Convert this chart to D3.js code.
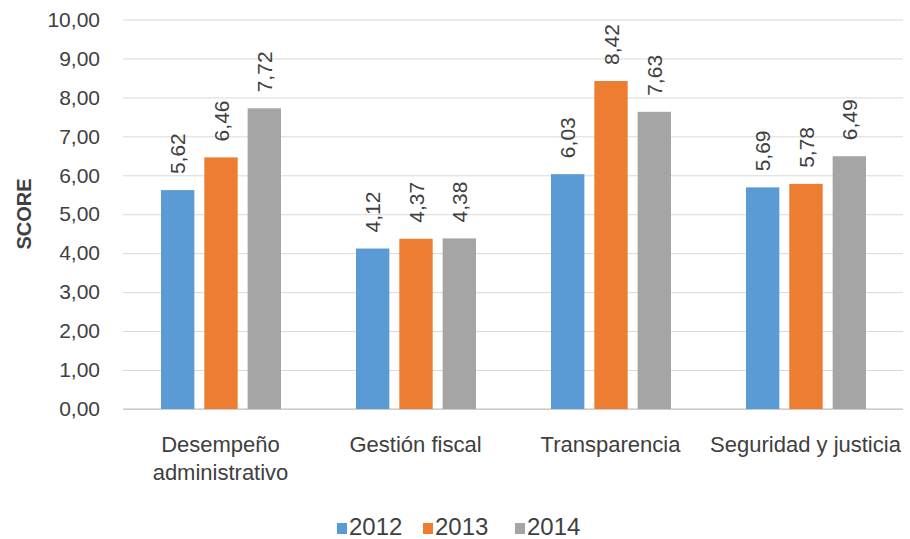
<!DOCTYPE html>
<html>
<head>
<meta charset="utf-8">
<script src="https://cdn.jsdelivr.net/npm/d3@7"></script>
<style>
  body { margin: 0; background: #fff; }
  text { font-family: "Liberation Sans", Arial, sans-serif; fill: #404040; }
</style>
</head>
<body>
<div id="chart"></div>
<script>
var categories = [["Desempeño", "administrativo"], ["Gestión fiscal"], ["Transparencia"], ["Seguridad y justicia"]];
var years = ["2012", "2013", "2014"];
var values2012 = [5.62, 4.12, 6.03, 5.69];
var values2013 = [6.46, 4.37, 8.42, 5.78];
var values2014 = [7.72, 4.38, 7.63, 6.49];
var yTicks = [0, 1, 2, 3, 4, 5, 6, 7, 8, 9, 10];
var colors = ["#5B9BD5", "#ED7D31", "#A5A5A5"];

var series = [values2012, values2013, values2014];

var w = 910, h = 539;
var plotLeft = 123, plotRight = 903, plotTop = 19.5, plotBottom = 409;

var locale = d3.formatLocale({decimal: ",", thousands: ".", grouping: [3], currency: ["", ""]});
var fmt = locale.format(".2f");

var svg = d3.select("#chart")
			.append("svg")
			.attr("width", w)
			.attr("height", h);

var catNames = categories.map(d => d.join(" "));

var xScale = d3.scaleBand()
			   .domain(catNames)
			   .range([plotLeft, plotRight]);

var xInner = d3.scaleBand()
			   .domain(years)
			   .range([38, 158])
			   .paddingInner(0.23);

var yScale = d3.scaleLinear()
			   .domain([0, 10])
			   .range([plotBottom, plotTop]);

// grid + y axis
var yAxis = d3.axisLeft(yScale)
			  .tickValues(yTicks)
			  .tickSize(-(plotRight - plotLeft))
			  .tickPadding(23)
			  .tickFormat(fmt);

var gy = svg.append("g")
   .attr("transform", "translate(" + plotLeft + ",0)")
   .call(yAxis);
gy.select(".domain").remove();
gy.selectAll(".tick line").attr("stroke", "#D9D9D9").attr("stroke-width", 1);
gy.selectAll(".tick text")
  .style("font-size", "21px")
  .style("font-family", "'Liberation Sans', Arial, sans-serif")
  .attr("fill", "#404040");

// baseline
svg.append("line")
   .attr("x1", plotLeft).attr("x2", plotRight)
   .attr("y1", yScale(0)).attr("y2", yScale(0))
   .attr("stroke", "#BFBFBF");

// bars
series.forEach(function(vals, si) {
	var g = svg.append("g");
	g.selectAll("rect")
	 .data(vals)
	 .enter()
	 .append("rect")
	 .attr("x", (d, i) => xScale(catNames[i]) + xInner(years[si]))
	 .attr("y", d => yScale(d))
	 .attr("width", xInner.bandwidth())
	 .attr("height", d => yScale(0) - yScale(d))
	 .attr("fill", colors[si]);

	// value labels
	g.selectAll("text")
	 .data(vals)
	 .enter()
	 .append("text")
	 .attr("transform", (d, i) => "translate(" + (xScale(catNames[i]) + xInner(years[si]) + xInner.bandwidth() / 2) + "," + (yScale(d) - 16) + ") rotate(-90)")
	 .attr("dominant-baseline", "central")
	 .attr("text-anchor", "start")
	 .style("font-size", "21px")
	 .text(d => fmt(d));
});

// category labels
categories.forEach(function(lines, i) {
	var cx = xScale(catNames[i]) + xScale.bandwidth() / 2;
	var t = svg.append("text")
			   .attr("x", cx)
			   .attr("y", 452)
			   .attr("text-anchor", "middle")
			   .style("font-size", "22px");
	lines.forEach(function(l, j) {
		t.append("tspan")
		 .attr("x", cx)
		 .attr("dy", j === 0 ? 0 : 28)
		 .text(l);
	});
});

// y axis label
svg.append("text")
   .attr("transform", "translate(31,214) rotate(-90)")
   .attr("text-anchor", "middle")
   .style("font-size", "20px")
   .style("font-weight", "bold")
   .text("SCORE");

// legend
var legendX = [337, 423, 515];
years.forEach(function(y, i) {
	svg.append("rect")
	   .attr("x", legendX[i])
	   .attr("y", 523)
	   .attr("width", 10)
	   .attr("height", 11)
	   .attr("fill", colors[i]);
	svg.append("text")
	   .attr("x", legendX[i] + 12)
	   .attr("y", 535)
	   .style("font-size", "24px")
	   .text(y);
});
</script>
</body>
</html>
